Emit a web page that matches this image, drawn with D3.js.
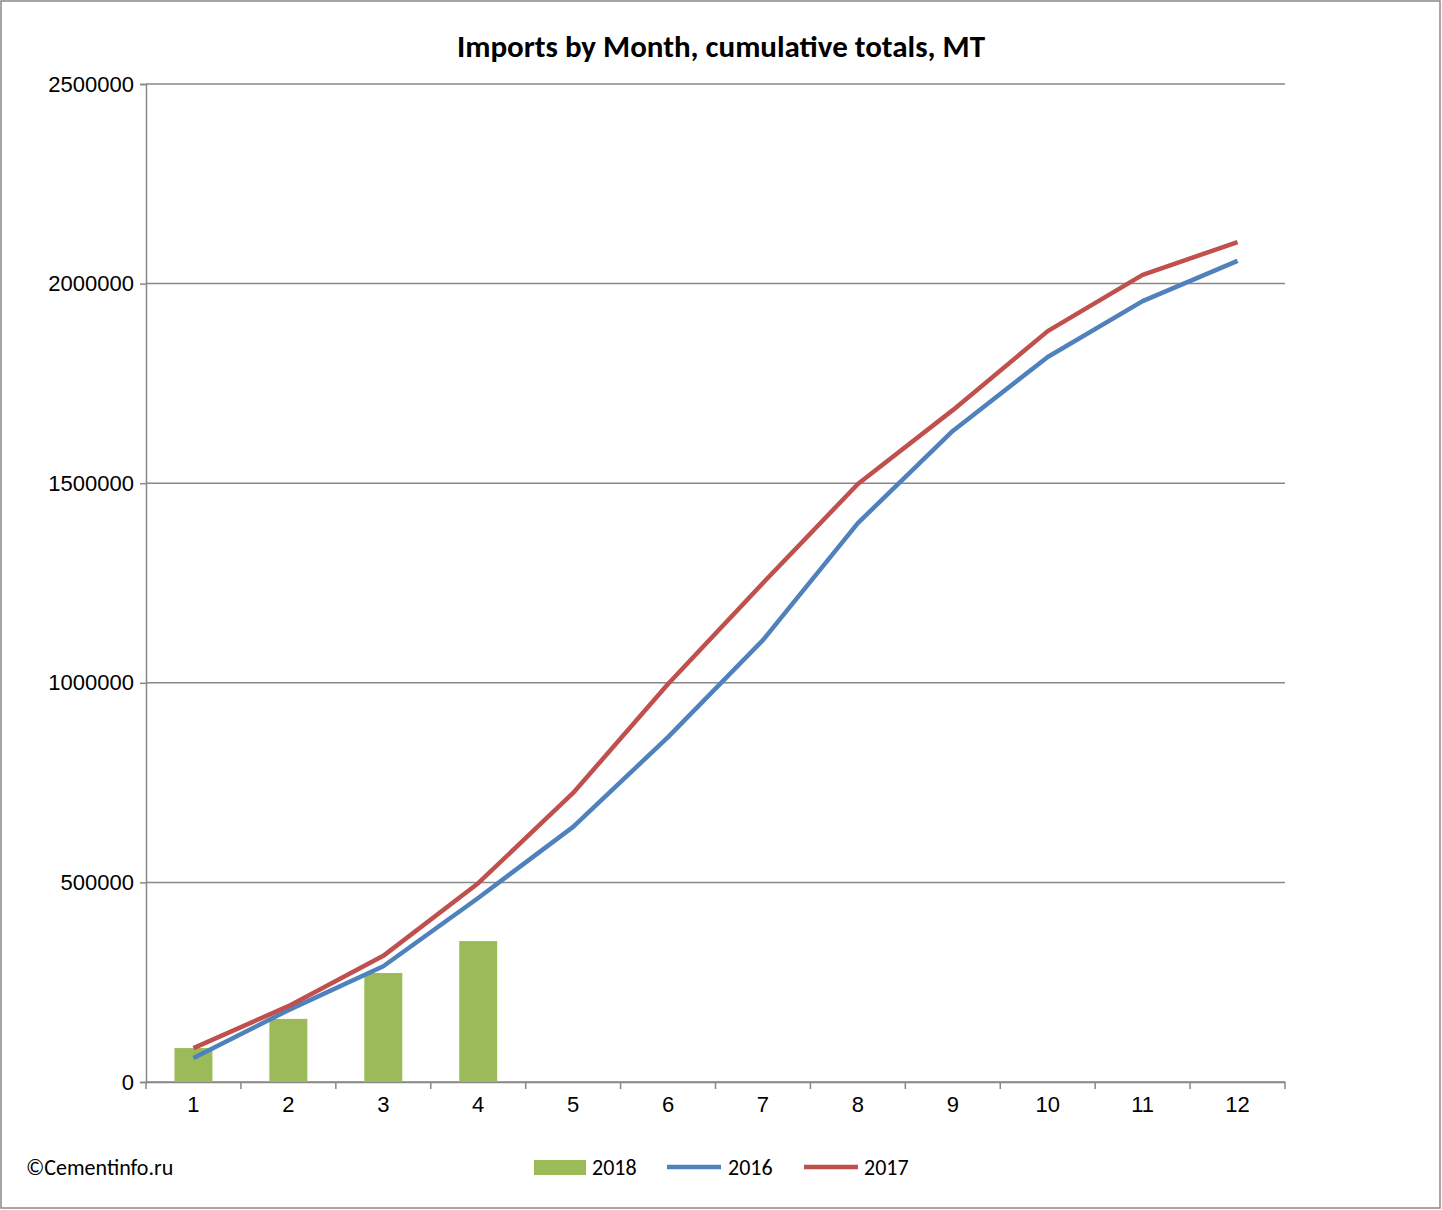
<!DOCTYPE html>
<html><head><meta charset="utf-8">
<script src="https://cdnjs.cloudflare.com/ajax/libs/d3/7.8.5/d3.min.js"></script>
<style>body{margin:0;background:#fff;font-family:Calibri,Carlito,"Liberation Sans",Arial,sans-serif}</style>
</head><body>
<svg id="chart" width="1442" height="1210"></svg>
<script>
// data
var months = [1,2,3,4,5,6,7,8,9,10,11,12];
var imports2018 = [85000,158000,273000,353000];
var imports2016 = [60000,180000,290000,461000,639000,864000,1107000,1400000,1631000,1816000,1956000,2057000];
var imports2017 = [85000,190000,316000,498000,724000,997000,1250000,1498000,1683000,1881000,2022000,2104000];
var yTicks = [0,500000,1000000,1500000,2000000,2500000];

(function(){
var svg = d3.select("#chart");
var plotLeft = 146, plotRight = 1285, plotTop = 84, plotBottom = 1082;

svg.append("rect").attr("x",1).attr("y",1).attr("width",1439).attr("height",1207)
  .attr("fill","#fff").attr("stroke","#888").attr("stroke-width",1.5);

var x = d3.scaleBand().domain(months).range([plotLeft,plotRight]);
var y = d3.scaleLinear().domain([0,2500000]).range([plotBottom,plotTop]);

// gridlines
svg.append("g").selectAll("line").data(yTicks).join("line")
  .attr("x1",plotLeft).attr("x2",plotRight).attr("y1",d=>y(d)).attr("y2",d=>y(d))
  .attr("stroke","#888").attr("stroke-width",1.5);

// y axis
var ya = svg.append("g").attr("transform",`translate(${plotLeft},0)`)
  .call(d3.axisLeft(y).tickValues(yTicks).tickSize(6).tickPadding(6).tickFormat(d3.format("d")));
ya.select(".domain").attr("stroke","#888").attr("stroke-width",1.5);
ya.selectAll(".tick line").attr("stroke","#888").attr("stroke-width",1.5);
ya.selectAll("text").attr("font-size",22).attr("fill","#000").attr("font-family","inherit");

// x axis
var xa = svg.append("g").attr("transform",`translate(0,${plotBottom})`)
  .call(d3.axisBottom(x).tickSize(0).tickPadding(14));
xa.select(".domain").attr("stroke","#888").attr("stroke-width",1.5);
xa.selectAll("text").attr("font-size",22).attr("fill","#000").attr("font-family","inherit");
svg.append("g").selectAll("line").data(months.concat([13])).join("line")
  .attr("x1",(d,i)=>plotLeft+i*x.step()).attr("x2",(d,i)=>plotLeft+i*x.step())
  .attr("y1",plotBottom).attr("y2",plotBottom+7).attr("stroke","#888").attr("stroke-width",1.5);

// bars
var bw = x.bandwidth()*0.4;
svg.append("g").selectAll("rect").data(imports2018).join("rect")
  .attr("x",(d,i)=>x(months[i])+x.bandwidth()/2-bw/2).attr("width",bw)
  .attr("y",d=>y(d)).attr("height",d=>plotBottom-y(d)).attr("fill","#9BBB59");

// lines
var line = d3.line().x((d,i)=>x(months[i])+x.bandwidth()/2).y(d=>y(d));
svg.append("path").datum(imports2016).attr("d",line).attr("fill","none")
  .attr("stroke","#4F81BD").attr("stroke-width",4.5).attr("stroke-linejoin","round");
svg.append("path").datum(imports2017).attr("d",line).attr("fill","none")
  .attr("stroke","#C0504D").attr("stroke-width",4.5).attr("stroke-linejoin","round");

// title
svg.append("text").attr("x",721).attr("y",57).attr("text-anchor","middle")
  .attr("font-size",31).attr("font-weight","bold").text("Imports by Month, cumulative totals, MT");

// footer
svg.append("text").attr("x",26).attr("y",1175).attr("font-size",22).text("©Cementinfo.ru");

// legend
var lg = svg.append("g");
lg.append("rect").attr("x",534).attr("y",1160).attr("width",52).attr("height",15).attr("fill","#9BBB59");
lg.append("text").attr("x",592).attr("y",1175).attr("font-size",22).text("2018");
lg.append("line").attr("x1",667).attr("x2",721).attr("y1",1167).attr("y2",1167).attr("stroke","#4F81BD").attr("stroke-width",4.5);
lg.append("text").attr("x",728).attr("y",1175).attr("font-size",22).text("2016");
lg.append("line").attr("x1",804).attr("x2",858).attr("y1",1167).attr("y2",1167).attr("stroke","#C0504D").attr("stroke-width",4.5);
lg.append("text").attr("x",864).attr("y",1175).attr("font-size",22).text("2017");
})();
</script>
</body></html>
